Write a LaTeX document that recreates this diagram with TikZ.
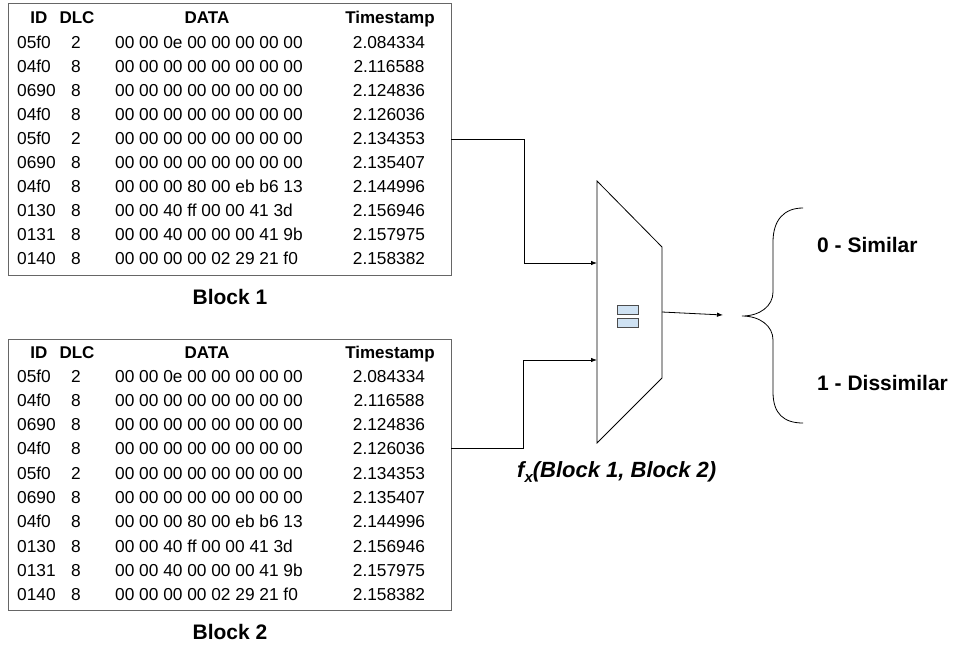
\documentclass[tikz,border=0pt]{standalone}
\usepackage{fontspec}
\setmainfont{Liberation Sans}
\usetikzlibrary{arrows.meta}
\definecolor{eqfill}{HTML}{CFE2F3}
\newcommand\drawblock[6]{%
  % #1 prefix, #2 top, #3 bottom, #4 header base, #5 row1 base, #6 step
  \node[tbl, anchor=north west, minimum width=443pt, minimum height=#3-#2, inner sep=0pt] (#1box) at (8,#2) {};
  \node[head, anchor=base] (#1hid) at (39,#4) {ID};
  \node[head, anchor=base] (#1hdlc) at (77,#4) {DLC};
  \node[head, anchor=base] (#1hdata) at (207,#4) {DATA};
  \node[head, anchor=base] (#1hts) at (390,#4) {Timestamp};
  \foreach \id/\dlc/\dat/\ts [count=\i] in {05f0/2/00 00 0e 00 00 00 00 00/2.084334,
      04f0/8/00 00 00 00 00 00 00 00/2.116588,
      0690/8/00 00 00 00 00 00 00 00/2.124836,
      04f0/8/00 00 00 00 00 00 00 00/2.126036,
      05f0/2/00 00 00 00 00 00 00 00/2.134353,
      0690/8/00 00 00 00 00 00 00 00/2.135407,
      04f0/8/00 00 00 80 00 eb b6 13/2.144996,
      0130/8/00 00 40 ff 00 00 41 3d/2.156946,
      0131/8/00 00 40 00 00 00 41 9b/2.157975,
      0140/8/00 00 00 00 02 29 21 f0/2.158382}{
    \pgfmathsetmacro\yb{#5+#6*(\i-1)}
    \node[cell, anchor=base west] (#1id\i) at (17,\yb) {\id};
    \node[cell, anchor=base] (#1dlc\i) at (76,\yb) {\dlc};
    \node[cell, anchor=base west] (#1dat\i) at (115,\yb) {\dat};
    \node[cell, anchor=base] (#1ts\i) at (389,\yb) {\ts};
  }%
}
\begin{document}
\begin{tikzpicture}[x=1pt,y=-1pt,
  cell/.style={inner sep=0pt, font=\fontsize{17.3}{20}\selectfont},
  head/.style={inner sep=0pt, font=\fontsize{17}{20}\selectfont\bfseries},
  lbl/.style={inner sep=0pt, font=\fontsize{21}{25}\selectfont\bfseries},
  tbl/.style={draw=black!60, line width=1.2pt},
  conn/.style={draw=black, line width=0.8pt},
  arr/.style={conn, -{Latex[length=6pt,width=4.5pt]}},
  eqbox/.style={draw=black!70, fill=eqfill, line width=1pt, inner sep=0pt, minimum width=21pt, minimum height=9pt}]
\useasboundingbox (0,0) rectangle (958,646);

\drawblock{a}{3}{275}{23}{48.7}{24}
\drawblock{b}{339}{610}{358}{382}{24.3}

\node[lbl] (blk1) at (230,297) {Block 1};
\node[lbl] (blk2) at (230,632) {Block 2};

% trapezoid (function)
\coordinate (tlt) at (597,181);
\coordinate (trt) at (662,247);
\coordinate (trb) at (662,378);
\coordinate (tlb) at (597,443);
\draw[conn] (tlt) -- (trt) -- (trb) -- (tlb) -- cycle;

\node[eqbox] (eq1) at (627.5,309.5) {};
\node[eqbox] (eq2) at (627.5,322.5) {};

% connectors
\coordinate (o1) at (451,139);
\coordinate (i1) at (597,263);
\coordinate (o2) at (451,448);
\coordinate (i2) at (597,360);
\draw[arr] (o1) -- (524,139) -- (524,263) -- (i1);
\draw[arr] (o2) -- (523,448) -- (523,360) -- (i2);

\coordinate (fo) at (662,312);
\coordinate (fe) at (723,315);
\draw[arr] (fo) -- (fe);

\node[inner sep=0pt, anchor=base west, font=\fontsize{22}{26}\selectfont\bfseries\itshape] (fx) at (517,477)
  {f\raisebox{-5pt}{\fontsize{15}{15}\selectfont x}(Block 1, Block 2)};

% brace
\coordinate (btip) at (742,316);
\draw[conn] (803,208) .. controls (784,208) and (773,220) .. (773,242) -- (773,292)
  .. controls (773,306) and (760,316) .. (btip)
  .. controls (760,316) and (773,326) .. (773,340) -- (773,392)
  .. controls (773,414) and (784,423) .. (803,423);

\node[lbl, anchor=west] (sim) at (817,245) {0 - Similar};
\node[lbl, anchor=west] (dis) at (817,383) {1 - Dissimilar};
\end{tikzpicture}
\end{document}
